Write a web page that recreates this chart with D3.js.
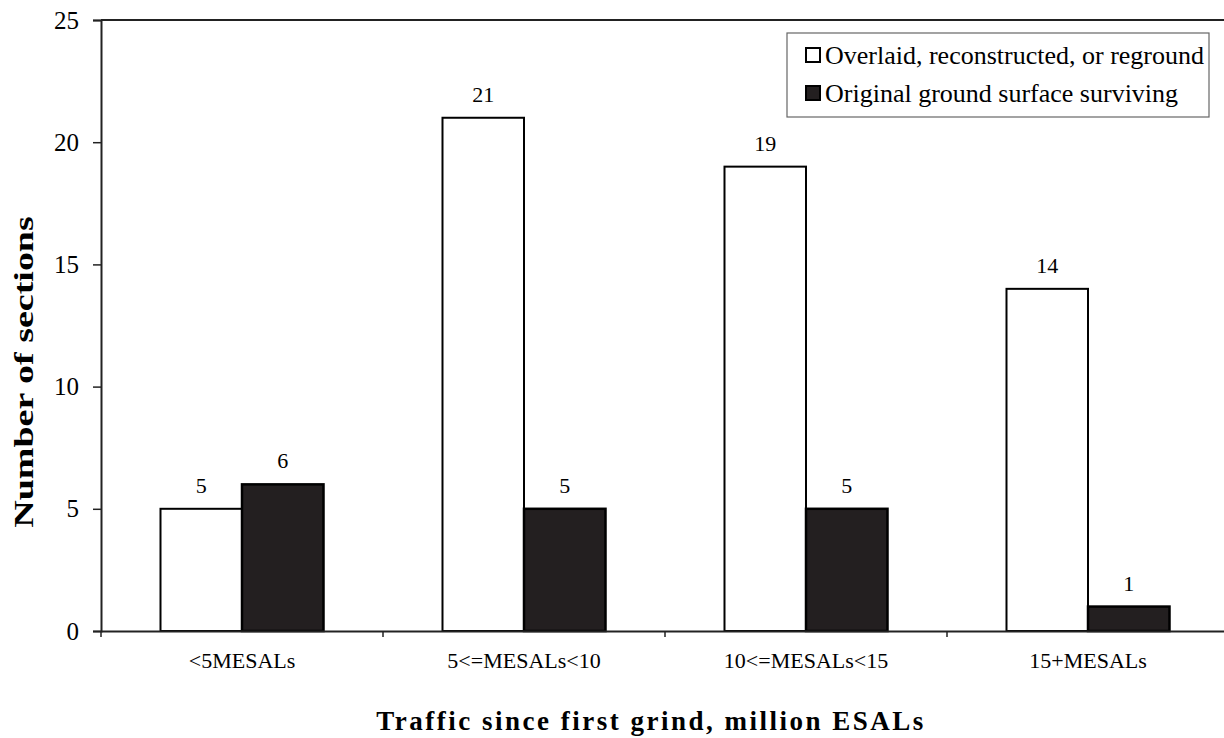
<!DOCTYPE html>
<html>
<head>
<meta charset="utf-8">
<script src="https://cdn.jsdelivr.net/npm/d3@7"></script>
<style>
  html, body { margin: 0; padding: 0; background: #fff; }
  svg { display: block; }
  text { font-family: "Liberation Serif", "Times New Roman", serif; fill: #000; }
</style>
</head>
<body>
<svg id="chart" width="1224" height="738"></svg>
<script>
const categories = ["<5MESALs", "5<=MESALs<10", "10<=MESALs<15", "15+MESALs"];
const seriesNames = ["Overlaid, reconstructed, or reground", "Original ground surface surviving"];
const overlaid = [5, 21, 19, 14];
const original = [6, 5, 5, 1];
const yTicks = [0, 5, 10, 15, 20, 25];

const svg = d3.select("#chart");
const plotLeft = 101, plotRight = 1229, plotTop = 20, plotBottom = 631;

const x = d3.scaleBand().domain(categories).range([plotLeft, plotRight]).padding(0);
const xs = d3.scaleBand().domain(seriesNames).range([0, x.bandwidth()]).paddingInner(0).paddingOuter(0.73);
const y = d3.scaleLinear().domain([0, 25]).range([plotBottom, plotTop]);

const fills = ["#ffffff", "#231f20"];
const strokeW = [2, 2.5];

// top border
svg.append("line").attr("x1", plotLeft).attr("x2", plotRight).attr("y1", y(25)).attr("y2", y(25))
  .attr("stroke", "#222").attr("stroke-width", 2);

// bars
const data = categories.map((c, i) => ({ c, vals: [overlaid[i], original[i]] }));
const g = svg.append("g");
data.forEach(d => {
  d.vals.forEach((v, j) => {
    g.append("rect")
      .attr("x", x(d.c) + xs(seriesNames[j]))
      .attr("y", y(v))
      .attr("width", xs.bandwidth())
      .attr("height", y(0) - y(v))
      .attr("fill", fills[j])
      .attr("stroke", "#000")
      .attr("stroke-width", strokeW[j]);
    g.append("text")
      .attr("x", x(d.c) + xs(seriesNames[j]) + xs.bandwidth() / 2)
      .attr("y", y(v) - 16)
      .attr("text-anchor", "middle")
      .attr("font-size", 22)
      .text(v);
  });
});

// y axis
const yAxis = d3.axisLeft(y).tickValues(yTicks).tickSize(8).tickPadding(14).tickFormat(d3.format("d"));
const ya = svg.append("g").attr("transform", `translate(${plotLeft},0)`).call(yAxis);
ya.select(".domain").attr("stroke", "#222").attr("stroke-width", 2);
ya.selectAll(".tick line").attr("stroke", "#222").attr("stroke-width", 1.5);
ya.selectAll(".tick text").attr("font-size", 25).attr("fill", "#000");

// x axis
const xAxis = d3.axisBottom(x).tickSize(0).tickPadding(21);
const xa = svg.append("g").attr("transform", `translate(0,${plotBottom})`).call(xAxis);
xa.select(".domain").attr("stroke", "#222").attr("stroke-width", 2);
xa.selectAll(".tick text").attr("font-size", 22).attr("fill", "#000");
// boundary ticks
categories.forEach(c => {
  svg.append("line").attr("x1", x(c)).attr("x2", x(c)).attr("y1", plotBottom).attr("y2", plotBottom + 6)
    .attr("stroke", "#222").attr("stroke-width", 1.5);
});

// axis titles
svg.append("text")
  .attr("x", 651).attr("y", 730)
  .attr("text-anchor", "middle")
  .attr("font-size", 27).attr("font-weight", "bold")
  .attr("letter-spacing", 2.5)
  .text("Traffic since first grind, million ESALs");

svg.append("text")
  .attr("transform", "translate(33,372) scale(0.74,1) rotate(-90)")
  .attr("text-anchor", "middle")
  .attr("font-size", 38).attr("font-weight", "bold")
  .text("Number of sections");

// legend
const lg = svg.append("g");
lg.append("rect").attr("x", 787).attr("y", 33).attr("width", 422).attr("height", 84)
  .attr("fill", "#fff").attr("stroke", "#666").attr("stroke-width", 1.2);
seriesNames.forEach((s, j) => {
  const cy = 55 + j * 38;
  lg.append("rect").attr("x", 806).attr("y", cy - 7).attr("width", 14).attr("height", 14)
    .attr("fill", fills[j]).attr("stroke", "#000").attr("stroke-width", 2);
  lg.append("text").attr("x", 825).attr("y", cy + 9).attr("font-size", 26).text(s);
});
</script>
</body>
</html>
